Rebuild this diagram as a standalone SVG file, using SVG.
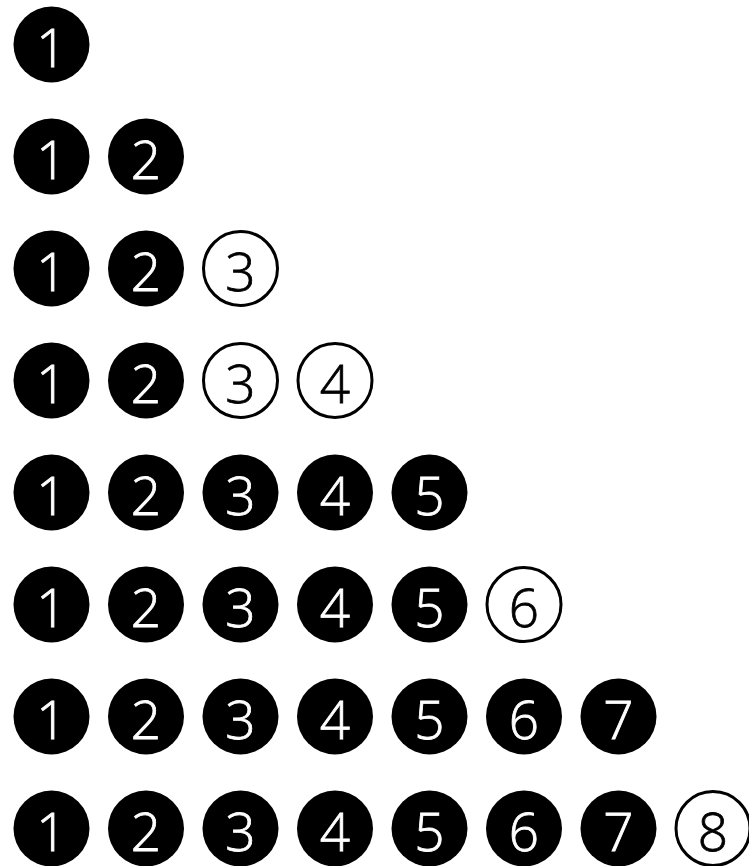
<svg xmlns="http://www.w3.org/2000/svg" width="749" height="866" viewBox="0 0 749 866">
<style>
.f circle{fill:#000}
.f text{fill:#fff;stroke:#fff}
.o circle{fill:#fff;stroke:#000;stroke-width:3}
.o text{fill:#000;stroke:#000}
text{font-family:"Open Sans","Noto Sans","DejaVu Sans",sans-serif;font-weight:300;font-size:53px;text-anchor:middle;stroke-width:0.8}
</style>
<rect width="749" height="866" fill="#fff"/>
<g id="r1">
<g id="r1c1" class="f"><circle cx="51.5" cy="44.5" r="38"/><text x="51.5" y="66.5">1</text></g>
</g>
<g id="r2">
<g id="r2c1" class="f"><circle cx="51.5" cy="156.5" r="38"/><text x="51.5" y="178.5">1</text></g>
<g id="r2c2" class="f"><circle cx="146" cy="156.5" r="38"/><text x="146" y="178.5">2</text></g>
</g>
<g id="r3">
<g id="r3c1" class="f"><circle cx="51.5" cy="268.5" r="38"/><text x="51.5" y="290.5">1</text></g>
<g id="r3c2" class="f"><circle cx="146" cy="268.5" r="38"/><text x="146" y="290.5">2</text></g>
<g id="r3c3" class="o"><circle cx="240.5" cy="268.5" r="37"/><text x="240.5" y="290.5">3</text></g>
</g>
<g id="r4">
<g id="r4c1" class="f"><circle cx="51.5" cy="380.5" r="38"/><text x="51.5" y="402.5">1</text></g>
<g id="r4c2" class="f"><circle cx="146" cy="380.5" r="38"/><text x="146" y="402.5">2</text></g>
<g id="r4c3" class="o"><circle cx="240.5" cy="380.5" r="37"/><text x="240.5" y="402.5">3</text></g>
<g id="r4c4" class="o"><circle cx="335" cy="380.5" r="37"/><text x="335" y="402.5">4</text></g>
</g>
<g id="r5">
<g id="r5c1" class="f"><circle cx="51.5" cy="492.5" r="38"/><text x="51.5" y="514.5">1</text></g>
<g id="r5c2" class="f"><circle cx="146" cy="492.5" r="38"/><text x="146" y="514.5">2</text></g>
<g id="r5c3" class="f"><circle cx="240.5" cy="492.5" r="38"/><text x="240.5" y="514.5">3</text></g>
<g id="r5c4" class="f"><circle cx="335" cy="492.5" r="38"/><text x="335" y="514.5">4</text></g>
<g id="r5c5" class="f"><circle cx="429.5" cy="492.5" r="38"/><text x="429.5" y="514.5">5</text></g>
</g>
<g id="r6">
<g id="r6c1" class="f"><circle cx="51.5" cy="604.5" r="38"/><text x="51.5" y="626.5">1</text></g>
<g id="r6c2" class="f"><circle cx="146" cy="604.5" r="38"/><text x="146" y="626.5">2</text></g>
<g id="r6c3" class="f"><circle cx="240.5" cy="604.5" r="38"/><text x="240.5" y="626.5">3</text></g>
<g id="r6c4" class="f"><circle cx="335" cy="604.5" r="38"/><text x="335" y="626.5">4</text></g>
<g id="r6c5" class="f"><circle cx="429.5" cy="604.5" r="38"/><text x="429.5" y="626.5">5</text></g>
<g id="r6c6" class="o"><circle cx="524" cy="604.5" r="37"/><text x="524" y="626.5">6</text></g>
</g>
<g id="r7">
<g id="r7c1" class="f"><circle cx="51.5" cy="716.5" r="38"/><text x="51.5" y="738.5">1</text></g>
<g id="r7c2" class="f"><circle cx="146" cy="716.5" r="38"/><text x="146" y="738.5">2</text></g>
<g id="r7c3" class="f"><circle cx="240.5" cy="716.5" r="38"/><text x="240.5" y="738.5">3</text></g>
<g id="r7c4" class="f"><circle cx="335" cy="716.5" r="38"/><text x="335" y="738.5">4</text></g>
<g id="r7c5" class="f"><circle cx="429.5" cy="716.5" r="38"/><text x="429.5" y="738.5">5</text></g>
<g id="r7c6" class="f"><circle cx="524" cy="716.5" r="38"/><text x="524" y="738.5">6</text></g>
<g id="r7c7" class="f"><circle cx="618.5" cy="716.5" r="38"/><text x="618.5" y="738.5">7</text></g>
</g>
<g id="r8">
<g id="r8c1" class="f"><circle cx="51.5" cy="828.5" r="38"/><text x="51.5" y="850.5">1</text></g>
<g id="r8c2" class="f"><circle cx="146" cy="828.5" r="38"/><text x="146" y="850.5">2</text></g>
<g id="r8c3" class="f"><circle cx="240.5" cy="828.5" r="38"/><text x="240.5" y="850.5">3</text></g>
<g id="r8c4" class="f"><circle cx="335" cy="828.5" r="38"/><text x="335" y="850.5">4</text></g>
<g id="r8c5" class="f"><circle cx="429.5" cy="828.5" r="38"/><text x="429.5" y="850.5">5</text></g>
<g id="r8c6" class="f"><circle cx="524" cy="828.5" r="38"/><text x="524" y="850.5">6</text></g>
<g id="r8c7" class="f"><circle cx="618.5" cy="828.5" r="38"/><text x="618.5" y="850.5">7</text></g>
<g id="r8c8" class="o"><circle cx="713" cy="828.5" r="37"/><text x="713" y="850.5">8</text></g>
</g>
</svg>
